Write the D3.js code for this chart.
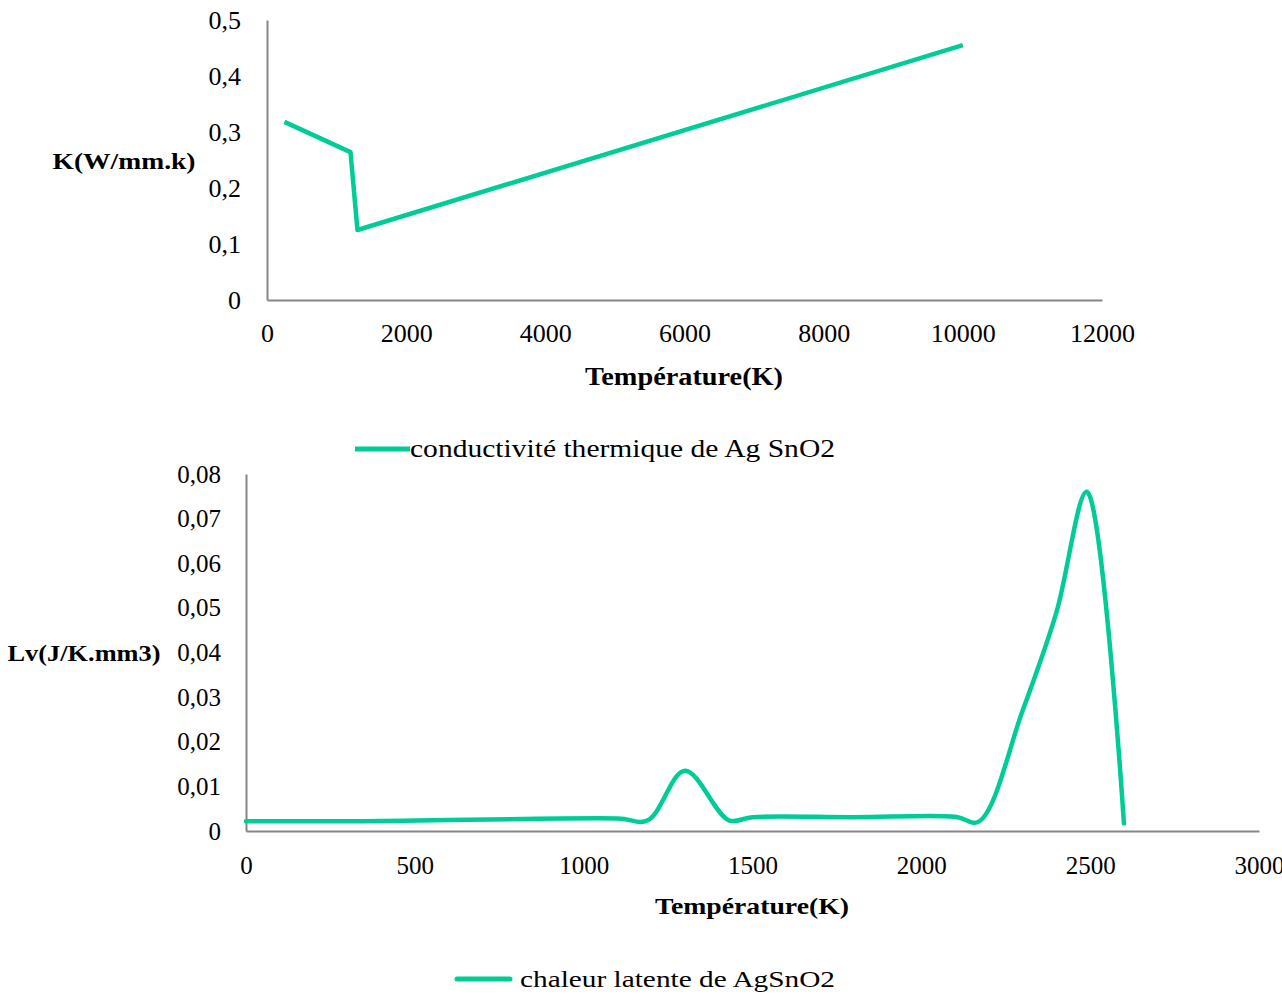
<!DOCTYPE html>
<html>
<head>
<meta charset="utf-8">
<script src="https://cdn.jsdelivr.net/npm/d3@7"></script>
<style>
  html, body { margin: 0; padding: 0; background: #fff; }
  svg { display: block; font-family: "Liberation Serif", "Times New Roman", serif; }
</style>
</head>
<body>
<svg id="chart" width="1282" height="1001"></svg>
<script>
// Thermal conductivity of AgSnO2 vs temperature
const kTemps  = [250, 1200, 1300, 10000];
const kValues = [0.318, 0.264, 0.125, 0.455];
const kYTicks = [0, 0.1, 0.2, 0.3, 0.4, 0.5];
const kXTicks = [0, 2000, 4000, 6000, 8000, 10000, 12000];

// Latent heat of AgSnO2 vs temperature
const lvTemps  = [0, 350, 1100, 1190, 1300, 1430, 1500, 1800, 2100, 2170, 2300, 2400, 2490, 2600];
const lvValues = [0.0022, 0.0022, 0.0028, 0.0024, 0.0135, 0.0024, 0.0031, 0.0031, 0.0032, 0.0021, 0.027, 0.049, 0.076, 0.0017];
const lvYTicks = [0, 0.01, 0.02, 0.03, 0.04, 0.05, 0.06, 0.07, 0.08];
const lvXTicks = [0, 500, 1000, 1500, 2000, 2500, 3000];

const lineColor = "#00cc96";
const axisColor = "#868686";

const locale = d3.formatLocale({ decimal: ",", thousands: "", grouping: [3], currency: ["", ""] });

const svg = d3.select("#chart");

function styleAxis(g, fontSize) {
  g.select(".domain").attr("stroke", axisColor).attr("stroke-width", 2);
  g.selectAll(".tick line").remove();
  g.selectAll(".tick text")
    .attr("fill", "#000")
    .attr("font-size", fontSize)
    .attr("font-family", "Liberation Serif, serif");
}

// ---------- Top chart ----------
{
  const x = d3.scaleLinear().domain([0, 12000]).range([267, 1102]);
  const y = d3.scaleLinear().domain([0, 0.5]).range([300, 20]);

  const gx = svg.append("g").attr("transform", `translate(0,${y(0)})`)
    .call(d3.axisBottom(x).tickValues(kXTicks).tickFormat(locale.format("d")).tickSize(0).tickPadding(24));
  styleAxis(gx, 26);

  const gy = svg.append("g").attr("transform", `translate(${x(0)},0)`)
    .call(d3.axisLeft(y).tickValues(kYTicks).tickFormat(locale.format(".1~f")).tickSize(0).tickPadding(26));
  styleAxis(gy, 26);

  svg.append("path")
    .datum(kTemps.map((t, i) => [t, kValues[i]]))
    .attr("fill", "none")
    .attr("stroke", lineColor)
    .attr("stroke-width", 4.5)
    .attr("stroke-linejoin", "round")
    .attr("d", d3.line().x(d => x(d[0])).y(d => y(d[1])));

  svg.append("text").attr("x", 124).attr("y", 169)
    .attr("text-anchor", "middle").attr("font-weight", "bold").attr("font-size", 24)
    .attr("textLength", 143).attr("lengthAdjust", "spacingAndGlyphs")
    .text("K(W/mm.k)");

  svg.append("text").attr("x", 684).attr("y", 385)
    .attr("text-anchor", "middle").attr("font-weight", "bold").attr("font-size", 25)
    .attr("textLength", 198).attr("lengthAdjust", "spacingAndGlyphs")
    .text("Température(K)");

  svg.append("line").attr("x1", 355).attr("x2", 410).attr("y1", 449).attr("y2", 449)
    .attr("stroke", lineColor).attr("stroke-width", 5);
  svg.append("text").attr("x", 410).attr("y", 457).attr("font-size", 25)
    .attr("textLength", 425).attr("lengthAdjust", "spacingAndGlyphs")
    .text("conductivité thermique de Ag SnO2");
}

// ---------- Bottom chart ----------
{
  const x = d3.scaleLinear().domain([0, 3000]).range([246, 1259]);
  const y = d3.scaleLinear().domain([0, 0.08]).range([831, 474]);

  const gx = svg.append("g").attr("transform", `translate(0,${y(0)})`)
    .call(d3.axisBottom(x).tickValues(lvXTicks).tickFormat(locale.format("d")).tickSize(0).tickPadding(25));
  styleAxis(gx, 25);

  const gy = svg.append("g").attr("transform", `translate(${x(0)},0)`)
    .call(d3.axisLeft(y).tickValues(lvYTicks).tickFormat(locale.format(".2~f")).tickSize(0).tickPadding(25));
  styleAxis(gy, 25);

  svg.append("path")
    .datum(lvTemps.map((t, i) => [t, lvValues[i]]))
    .attr("fill", "none")
    .attr("stroke", lineColor)
    .attr("stroke-width", 4.5)
    .attr("stroke-linecap", "round")
    .attr("d", d3.line().x(d => x(d[0])).y(d => y(d[1])).curve(d3.curveCatmullRom.alpha(0.5)));

  svg.append("text").attr("x", 84).attr("y", 661)
    .attr("text-anchor", "middle").attr("font-weight", "bold").attr("font-size", 23)
    .attr("textLength", 153).attr("lengthAdjust", "spacingAndGlyphs")
    .text("Lv(J/K.mm3)");

  svg.append("text").attr("x", 752).attr("y", 914)
    .attr("text-anchor", "middle").attr("font-weight", "bold").attr("font-size", 24)
    .attr("textLength", 194).attr("lengthAdjust", "spacingAndGlyphs")
    .text("Température(K)");

  svg.append("line").attr("x1", 457).attr("x2", 510).attr("y1", 979).attr("y2", 979)
    .attr("stroke", lineColor).attr("stroke-width", 5).attr("stroke-linecap", "round");
  svg.append("text").attr("x", 520).attr("y", 987).attr("font-size", 24)
    .attr("textLength", 315).attr("lengthAdjust", "spacingAndGlyphs")
    .text("chaleur latente de AgSnO2");
}
</script>
</body>
</html>
